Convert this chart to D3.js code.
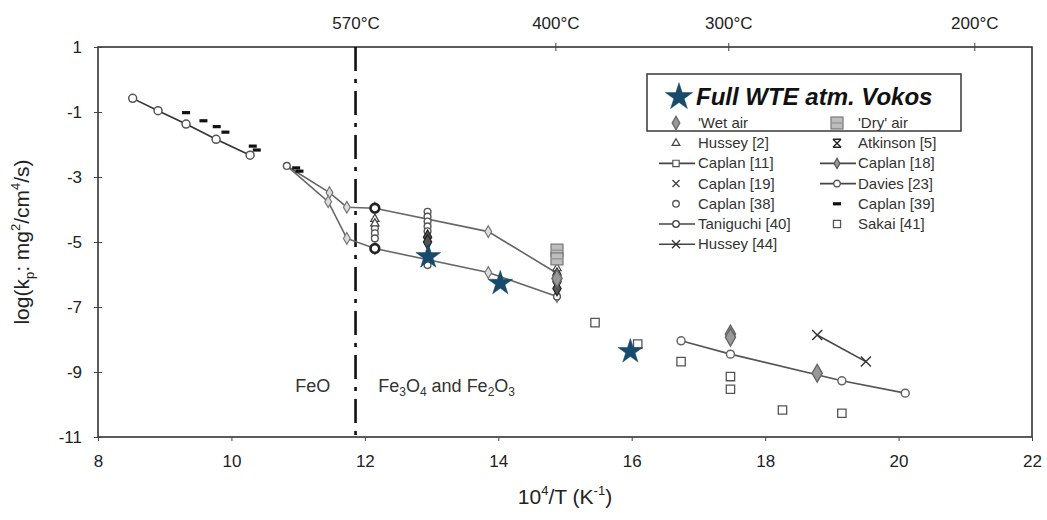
<!DOCTYPE html>
<html><head><meta charset="utf-8">
<script src="https://cdn.jsdelivr.net/npm/d3@7"></script>
<style>body{margin:0;background:#fff}svg{display:block}text{font-family:"Liberation Sans",Arial,sans-serif}</style>
</head><body><svg id="c" width="1047" height="520"></svg>
<script>
// ---- data ----
const xTicks = [8,10,12,14,16,18,20,22];
const yTicks = [1,-1,-3,-5,-7,-9,-11];
const topTempsC = [570,400,300,200];
const taniguchiX = [8.52,8.90,9.32,9.77,10.28];
const taniguchiY = [-0.58,-0.96,-1.37,-1.84,-2.33];
const caplan39X = [9.32,9.58,9.78,9.91,10.32,10.38,10.97,11.02];
const caplan39Y = [-1.02,-1.27,-1.45,-1.62,-2.05,-2.17,-2.72,-2.82];
const caplan18X = [10.83,11.47,11.73,12.15,13.85,14.88];
const caplan18Y = [-2.66,-3.48,-3.93,-3.96,-4.68,-5.96];
const caplan11X = [10.83,11.45,11.73,12.15,13.85,14.88];
const caplan11Y = [-2.66,-3.76,-4.89,-5.2,-5.94,-6.68];
const daviesX = [16.74,17.48,19.15,20.1];
const daviesY = [-8.04,-8.45,-9.27,-9.65];
const caplan38X = [12.15,12.15,12.15,12.94,12.94,12.94,12.94,12.94,12.94,14.88,10.83];
const caplan38Y = [-4.58,-4.73,-4.89,-4.07,-4.22,-4.37,-4.52,-4.67,-5.71,-6.68,-2.66];
const hussey2X = [12.15,12.15,14.88];
const hussey2Y = [-4.29,-4.43,-5.81];
const atkinsonX = [12.94,12.94,14.88,14.88,14.88];
const atkinsonY = [-4.85,-5.0,-6.02,-6.22,-6.43];
const dryAirX = [14.88,14.88];
const dryAirY = [-5.25,-5.52];
const wetAirX = [14.88,17.48,17.48,18.78];
const wetAirY = [-6.12,-7.83,-7.93,-9.04];
const sakaiX = [15.45,16.09,16.74,17.48,17.48,18.26,19.15];
const sakaiY = [-7.48,-8.14,-8.68,-9.14,-9.53,-10.17,-10.27];
const hussey44X = [18.78,19.51];
const hussey44Y = [-7.86,-8.68];
const vokosX = [12.95,14.03,15.98];
const vokosY = [-5.45,-6.27,-8.37];
const legendLabels = ["'Wet air","'Dry' air","Hussey [2]","Atkinson [5]","Caplan [11]","Caplan [18]","Caplan [19]","Davies [23]","Caplan [38]","Caplan [39]","Taniguchi [40]","Sakai [41]","Hussey [44]"];

// ---- layout ----
const svg = d3.select("#c");
const L=98,R=1032,T=47,B=437;
const x = d3.scaleLinear().domain([8,22]).range([L,R]);
const y = d3.scaleLinear().domain([-11,1]).range([B,T]);
const zip = (a,b)=>a.map((v,i)=>[v,b[i]]);
const STAR="#174a6b";
const fmt = d => String(d);

// frame
svg.append("rect").attr("x",L).attr("y",T).attr("width",R-L).attr("height",B-T)
  .attr("fill","none").attr("stroke","#333").attr("stroke-width",1.6);

// y axis
const yAx = svg.append("g").attr("transform",`translate(${L},0)`)
  .call(d3.axisLeft(y).tickValues(yTicks).tickSize(4).tickPadding(12).tickFormat(fmt));
yAx.select(".domain").remove();
yAx.selectAll(".tick line").attr("x2",4).attr("x1",-4).attr("stroke","#444");
yAx.selectAll("text").attr("font-size",17).attr("fill","#222").attr("font-family","Liberation Sans, Arial");
// x axis
const xAx = svg.append("g").attr("transform",`translate(0,${B})`)
  .call(d3.axisBottom(x).tickValues(xTicks).tickSize(4).tickPadding(14).tickFormat(fmt));
xAx.select(".domain").remove();
xAx.selectAll(".tick line").attr("stroke","#444");
xAx.selectAll("text").attr("font-size",17).attr("fill","#222").attr("font-family","Liberation Sans, Arial");
// top temperature axis
const tempX = c => 1e4/(c+273.15);
const tAx = svg.append("g").attr("transform",`translate(0,${T})`)
  .call(d3.axisTop(x).tickValues(topTempsC.map(tempX)).tickSize(4).tickPadding(14).tickFormat((d,i)=>topTempsC[i]+"°C"));
tAx.select(".domain").remove();
tAx.selectAll(".tick line").attr("y2",-4).attr("y1",4).attr("stroke","#444");
tAx.selectAll(".tick").filter((d,i)=>i===0).select("line").remove();
tAx.selectAll("text").attr("font-size",17).attr("fill","#222").attr("font-family","Liberation Sans, Arial");

// dash-dot phase boundary
svg.append("line").attr("x1",x(tempX(570))).attr("x2",x(tempX(570))).attr("y1",T).attr("y2",B)
  .attr("stroke","#111").attr("stroke-width",2.6).attr("stroke-dasharray","24,8,4,8");

// phase labels
svg.append("text").attr("x",x(11.22)).attr("y",y(-9.6)).attr("text-anchor","middle").attr("font-size",18).attr("fill","#333").text("FeO");
const ph = svg.append("text").attr("x",x(12.2)).attr("y",y(-9.6)).attr("font-size",18).attr("fill","#333");
ph.append("tspan").text("Fe");
ph.append("tspan").attr("font-size",12).attr("dy",4).text("3");
ph.append("tspan").attr("dy",-4).text("O");
ph.append("tspan").attr("font-size",12).attr("dy",4).text("4");
ph.append("tspan").attr("dy",-4).text(" and Fe");
ph.append("tspan").attr("font-size",12).attr("dy",4).text("2");
ph.append("tspan").attr("dy",-4).text("O");
ph.append("tspan").attr("font-size",12).attr("dy",4).text("3");

// axis titles
const xt = svg.append("text").attr("x",565).attr("y",504).attr("text-anchor","middle").attr("font-size",21).attr("fill","#222");
xt.append("tspan").text("10");
xt.append("tspan").attr("font-size",13).attr("dy",-9).text("4");
xt.append("tspan").attr("dy",9).text("/T (K");
xt.append("tspan").attr("font-size",13).attr("dy",-9).text("-1");
xt.append("tspan").attr("dy",9).text(")");
const yt = svg.append("text").attr("transform",`translate(29,${(T+B)/2}) rotate(-90)`).attr("text-anchor","middle").attr("font-size",21).attr("fill","#222");
yt.append("tspan").text("log(k");
yt.append("tspan").attr("font-size",13).attr("dy",5).text("p");
yt.append("tspan").attr("dy",-5).text(": mg");
yt.append("tspan").attr("font-size",13).attr("dy",-9).text("2");
yt.append("tspan").attr("dy",9).text("/cm");
yt.append("tspan").attr("font-size",13).attr("dy",-9).text("4");
yt.append("tspan").attr("dy",9).text("/s)");

// ---- marker helpers ----
const line = d3.line().x(d=>x(d[0])).y(d=>y(d[1]));
function drawLine(g,pts,color){ g.append("path").attr("d",line(pts)).attr("fill","none").attr("stroke",color||"#555").attr("stroke-width",1.6); }
function sym(g,type,size,px,py,fill,stroke,sw){
  return g.append("path").attr("d",d3.symbol().type(type).size(size)()).attr("transform",`translate(${px},${py})`)
    .attr("fill",fill).attr("stroke",stroke).attr("stroke-width",sw||1.2);
}
const diamond = d3.symbolDiamond, circle=d3.symbolCircle, square=d3.symbolSquare, tri=d3.symbolTriangle;
function xMark(g,px,py,r,color){ g.append("path").attr("d",`M${px-r},${py-r}L${px+r},${py+r}M${px-r},${py+r}L${px+r},${py-r}`).attr("stroke",color||"#333").attr("stroke-width",1.4); }
function asterisk(g,px,py,r){ xMark(g,px,py,r,"#222"); g.append("path").attr("d",`M${px-r},${py-r}L${px+r},${py-r}M${px-r},${py+r}L${px+r},${py+r}`).attr("stroke","#222").attr("stroke-width",1.4); }
function dash(g,px,py){ g.append("rect").attr("x",px-4).attr("y",py-1.6).attr("width",8).attr("height",3.2).attr("fill","#111"); }
function drySq(g,px,py){ g.append("rect").attr("x",px-6).attr("y",py-6).attr("width",12).attr("height",12).attr("fill","#bdbdbd").attr("stroke","#777").attr("stroke-width",1.2);
  g.append("line").attr("x1",px-5).attr("x2",px+5).attr("y1",py).attr("y2",py).attr("stroke","#888"); }

const g = svg.append("g");
// lines
drawLine(g, zip(taniguchiX,taniguchiY), "#333");
drawLine(g, zip(caplan18X,caplan18Y), "#666");
drawLine(g, zip(caplan11X,caplan11Y), "#666");
drawLine(g, zip(daviesX,daviesY), "#555");
drawLine(g, zip(hussey44X,hussey44Y), "#444");
// markers
zip(taniguchiX,taniguchiY).forEach(d=>sym(g,circle,50,x(d[0]),y(d[1]),"#fff","#555",1.5));
zip(caplan39X,caplan39Y).forEach(d=>dash(g,x(d[0]),y(d[1])));
zip(caplan18X,caplan18Y).slice(1).forEach(d=>sym(g,diamond,40,x(d[0]),y(d[1]),"#ddd","#777",1.2));
zip(caplan11X,caplan11Y).slice(1).forEach(d=>sym(g,diamond,40,x(d[0]),y(d[1]),"#ddd","#777",1.2));
zip(daviesX,daviesY).forEach(d=>sym(g,circle,50,x(d[0]),y(d[1]),"#fff","#666",1.5));
zip(caplan38X,caplan38Y).forEach(d=>sym(g,circle,36,x(d[0]),y(d[1]),"#fff","#555",1.4));
// bold circles at 12.15
[[12.15,-3.96],[12.15,-5.2]].forEach(d=>sym(g,circle,60,x(d[0]),y(d[1]),"#fff","#222",2.6));
zip(hussey2X,hussey2Y).forEach(d=>sym(g,tri,30,x(d[0]),y(d[1]),"#fff","#444",1.2));
zip(atkinsonX,atkinsonY).forEach(d=>sym(g,diamond,60,x(d[0]),y(d[1]),"#555","#222",1.2));
zip(dryAirX,dryAirY).forEach(d=>drySq(g,x(d[0]),y(d[1])));
zip(wetAirX,wetAirY).forEach(d=>sym(g,diamond,90,x(d[0]),y(d[1]),"#999","#666",1.4));
zip(sakaiX,sakaiY).forEach(d=>sym(g,square,70,x(d[0]),y(d[1]),"#fff","#555",1.3));
zip(hussey44X,hussey44Y).forEach(d=>xMark(g,x(d[0]),y(d[1]),5));
zip(vokosX,vokosY).forEach(d=>sym(g,d3.symbolStar,190,x(d[0]),y(d[1]),STAR,STAR,0.5));

// ---- legend ----
const lg = svg.append("g");
lg.append("rect").attr("x",647).attr("y",74).attr("width",314).attr("height",57).attr("fill","#fff").attr("stroke","#444").attr("stroke-width",1.6);
sym(lg,d3.symbolStar,230,679,97,STAR,STAR,0.5);
lg.append("text").attr("x",696).attr("y",105).attr("font-size",24).attr("font-weight","bold").attr("font-style","italic")
  .attr("font-family","Open Sans, Liberation Sans, sans-serif").attr("fill","#111").text("Full WTE atm. Vokos");
const rowY = i => 123 + i*20.2;
const colSym=[676,837], colTxt=[698,858];
legendLabels.forEach((lab,i)=>{
  const c=i%2, r=Math.floor(i/2), py=rowY(r), px=colSym[c];
  if(i===4||i===5||i===7||i===10||i===12){
    lg.append("line").attr("x1",px-17).attr("x2",px+19).attr("y1",py).attr("y2",py).attr("stroke","#444").attr("stroke-width",1.6);
  }
  switch(i){
    case 0: sym(lg,diamond,50,px,py,"#999","#666",1.3); break;
    case 1: drySq(lg,px,py); break;
    case 2: sym(lg,tri,26,px,py,"#fff","#444",1.2); break;
    case 3: asterisk(lg,px,py,4); break;
    case 4: sym(lg,square,40,px,py,"#fff","#555",1.2); break;
    case 5: sym(lg,diamond,30,px,py,"#999","#555",1.2); break;
    case 6: xMark(lg,px,py,3.5,"#444"); break;
    case 7: sym(lg,circle,34,px,py,"#fff","#555",1.4); break;
    case 8: sym(lg,circle,34,px,py,"#fff","#555",1.3); break;
    case 9: dash(lg,px,py); break;
    case 10: sym(lg,circle,34,px,py,"#fff","#444",1.3); break;
    case 11: sym(lg,square,50,px,py,"#fff","#555",1.3); break;
    case 12: xMark(lg,px,py,4,"#333"); break;
  }
  lg.append("text").attr("x",colTxt[c]).attr("y",py+5).attr("font-size",15).attr("fill","#333").text(lab);
});
</script></body></html>
